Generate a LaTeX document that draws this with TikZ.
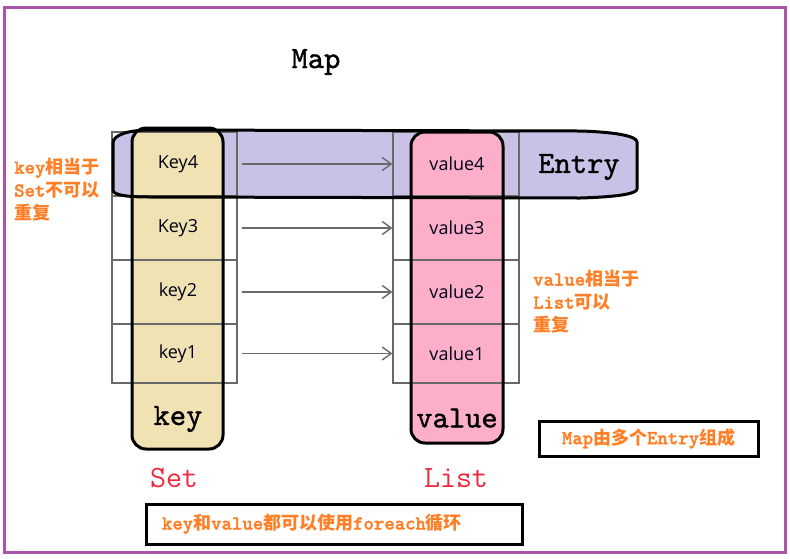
\documentclass[tikz,border=0pt]{standalone}
\usepackage{fontspec}
\usetikzlibrary{arrows.meta}
\newfontfamily\cjkfont{Noto Sans CJK SC}
\newfontfamily\monofont{lmmonolt10-bold.otf}[Scale=1.1,FakeBold=1.6]
\newfontfamily\bigfont{lmmono10-regular.otf}[FakeBold=1.2]
\newfontfamily\cellfont{Open Sans}
\definecolor{entryc}{RGB}{201,193,230}
\definecolor{keyc}{RGB}{240,226,178}
\definecolor{valc}{RGB}{253,175,201}
\definecolor{orangec}{RGB}{255,127,39}
\definecolor{redc}{RGB}{240,40,60}
\definecolor{borderc}{RGB}{168,84,168}
\definecolor{gridc}{RGB}{105,105,105}
\newcommand\olat[1]{{\monofont #1}}
\newcommand\ocjk[1]{{\cjkfont\bfseries #1}}
\begin{document}
\begin{tikzpicture}[x=1pt,y=-1pt,
  cellk/.style={draw=gridc,line width=1.2pt,inner sep=0pt,minimum width=125pt,minimum height=64pt},
  cellv/.style={draw=gridc,line width=1.2pt,inner sep=0pt,minimum width=126pt,minimum height=64pt},
  celltext/.style={font=\cellfont\fontsize{18}{18}\selectfont,text=black!90!blue},
  bigtext/.style={font=\bigfont\fontsize{31}{31}\selectfont},
  otext/.style={text=orangec,font=\fontsize{18}{23}\selectfont,align=left,inner sep=0pt},
  obox/.style={draw=black,line width=3pt,text=orangec,font=\fontsize{18}{23}\selectfont},
  arr/.style={draw=gridc,line width=1.4pt,-{Straight Barb[length=9pt,width=13pt]}},
  pillline/.style={draw=black,line width=3pt,rounded corners=14pt}
]
\useasboundingbox (0,0) rectangle (790,558);
\fill[white] (0,0) rectangle (790,558);
\draw[borderc,line width=3pt] (4,7) rectangle (785,552);

% Entry fill
\fill[entryc] (113,190) -- (113,143) .. controls (113,135) and (128,130) .. (150,130) -- (580,131) .. controls (615,132) and (637,136) .. (637,142) -- (637,189) .. controls (637,194) and (615,197) .. (580,198) -- (150,197) .. controls (126,197) and (113,195) .. (113,190) -- cycle;

% pill fills
\fill[keyc,rounded corners=14pt] (132,128) rectangle (223,449);
\fill[valc,rounded corners=14pt] (411,132) rectangle (503,443);

% grid cells
\node[cellk] (kc4) at (174.5,164) {};
\node[cellk] (kc3) at (174.5,228) {};
\node[cellk] (kc2) at (174.5,292) {};
\node[cellk,minimum height=59pt] (kc1) at (174.5,353.5) {};
\node[cellv] (vc4) at (456,164) {};
\node[cellv] (vc3) at (456,228) {};
\node[cellv] (vc2) at (456,292) {};
\node[cellv,minimum height=59pt] (vc1) at (456,353.5) {};

% pill borders
\path[pillline] (132,128) rectangle (223,449);
\path[pillline] (411,132) rectangle (503,443);

% Entry border
\draw[line width=3pt] (113,190) -- (113,143) .. controls (113,135) and (128,130) .. (150,130) -- (580,131) .. controls (615,132) and (637,136) .. (637,142) -- (637,189) .. controls (637,194) and (615,197) .. (580,198) -- (150,197) .. controls (126,197) and (113,195) .. (113,190) -- cycle;

% cell texts
\node[celltext] (k4) at (178,164) {Key4};
\node[celltext] (k3) at (178,228) {Key3};
\node[celltext] (k2) at (178,292) {key2};
\node[celltext] (k1) at (178,354) {key1};
\node[celltext] (v4) at (457,164) {value4};
\node[celltext] (v3) at (457,228) {value3};
\node[celltext] (v2) at (457,292) {value2};
\node[celltext] (v1) at (457,354) {value1};

% arrows
\draw[arr] ([xshift=4pt]kc4.east) -- (vc4.west);
\draw[arr] ([xshift=4pt]kc3.east) -- (vc3.west);
\draw[arr] ([xshift=4pt]kc2.east) -- (vc2.west);
\draw[arr] ([xshift=4pt]kc1.east) -- (vc1.west);

% big labels
\node[bigtext] (map) at (316,62) {Map};
\node[bigtext] (entry) at (579,167) {Entry};
\node[bigtext] (keyl) at (178,419) {key};
\node[bigtext] (vall) at (457,418) {value};
\node[bigtext,text=redc,font=\ttfamily\fontsize{31}{31}\selectfont] (setl) at (174,478) {Set};
\node[bigtext,text=redc,font=\ttfamily\fontsize{31}{31}\selectfont] (listl) at (456,478) {List};

% orange notes
\node[otext,anchor=north west] (lnote) at (14,158) {\olat{key}\ocjk{相当于}\\\olat{Set}\ocjk{不可以}\\\ocjk{重复}};
\node[otext,anchor=north west] (rnote) at (533,270) {\olat{value}\ocjk{相当于}\\\olat{List}\ocjk{可以}\\\ocjk{重复}};

% boxes
\node[obox,minimum width=219pt,minimum height=35pt,inner sep=0pt] (mapbox) at (648.5,438.5) {\olat{Map}\ocjk{由多个}\olat{Entry}\ocjk{组成}};
\node[obox,minimum width=376pt,minimum height=40pt,inner xsep=14pt,inner ysep=0pt,text width=344pt,align=left] (febox) at (334,524) {\olat{key}\ocjk{和}\olat{value}\ocjk{都可以使用}\olat{foreach}\ocjk{循环}};
\end{tikzpicture}
\end{document}
